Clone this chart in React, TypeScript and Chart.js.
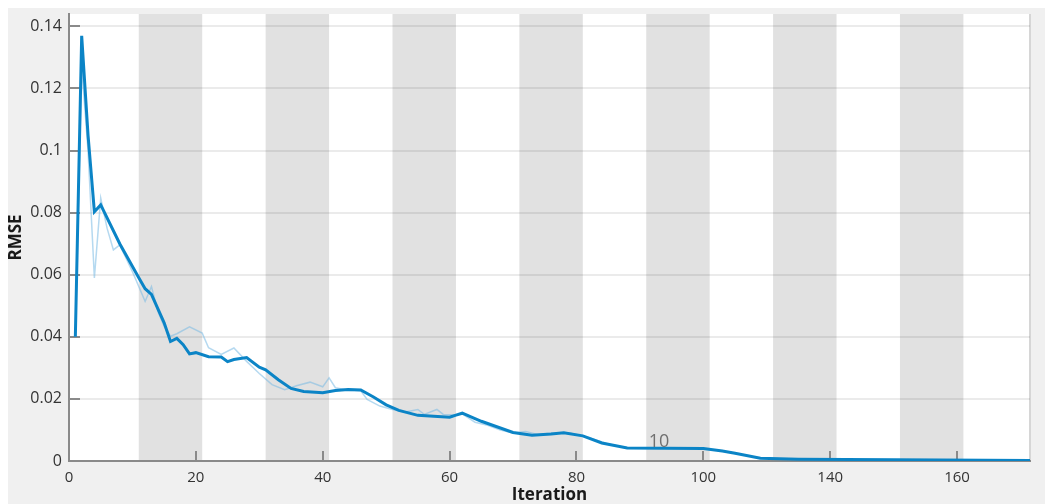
import React, { useEffect, useRef } from "react";
import { Chart, registerables } from "chart.js";

Chart.register(...registerables);

// ---- data ----
const smoothIter = [1, 2, 3, 4, 5, 8, 11, 12, 13, 15, 16, 17, 18, 19, 20, 22, 24, 25, 26, 28, 30, 31, 33, 35, 37, 40, 42, 44, 46, 48, 50, 52, 55, 60, 61, 62, 65, 70, 73, 76, 78, 81, 84, 88, 100, 103, 105, 109, 115, 130, 151.5];
const smoothRmse = [0.04, 0.137, 0.105, 0.0803, 0.0825, 0.07, 0.059, 0.0555, 0.0537, 0.0445, 0.0385, 0.0395, 0.0375, 0.0345, 0.0349, 0.0336, 0.0335, 0.032, 0.0327, 0.0333, 0.0302, 0.0294, 0.0262, 0.0234, 0.0224, 0.022, 0.0227, 0.023, 0.0229, 0.0206, 0.0181, 0.0163, 0.0147, 0.0141, 0.0148, 0.0154, 0.0128, 0.0092, 0.0083, 0.0087, 0.0091, 0.0081, 0.0058, 0.0042, 0.004, 0.0032, 0.0025, 0.0009, 0.0006, 0.0004, 0.0002];

const rawIter = [1, 2, 3, 4, 5, 6, 7, 8, 10, 12, 13, 14, 15, 16, 17, 19, 21, 22, 24, 26, 28, 30, 32, 34, 36, 38, 40, 41, 42, 44, 46, 47, 49, 51, 53, 55, 56, 58, 59, 61, 62, 64, 66, 68, 70, 72, 74, 76, 79, 82, 85, 88, 100, 103, 105, 109, 115, 130, 151.5];
const rawRmse = [0.04, 0.127, 0.1, 0.059, 0.0847, 0.075, 0.068, 0.0696, 0.061, 0.0514, 0.0562, 0.0482, 0.0434, 0.0402, 0.041, 0.0432, 0.0412, 0.0365, 0.0343, 0.0364, 0.0321, 0.0282, 0.0246, 0.023, 0.0243, 0.0254, 0.0239, 0.0268, 0.0236, 0.0228, 0.0226, 0.0198, 0.0177, 0.0166, 0.0158, 0.0166, 0.015, 0.0166, 0.015, 0.0148, 0.0152, 0.0125, 0.0115, 0.01, 0.009, 0.0095, 0.0085, 0.0089, 0.009, 0.0075, 0.0055, 0.0042, 0.004, 0.0032, 0.0025, 0.0009, 0.0006, 0.0004, 0.0002];

const xTickValues = [0, 20, 40, 60, 80, 100, 120, 140];
const xTickLabels = ["0", "20", "40", "60", "80", "100", "140", "160"];
const yTickValues = [0, 0.02, 0.04, 0.06, 0.08, 0.1, 0.12, 0.14];
const yTickLabels = ["0", "0.02", "0.04", "0.06", "0.08", "0.1", "0.12", "0.14"];

const bandStarts = [11, 31, 51, 71, 91, 111, 131];
const bandWidth = 10;

const noteText = "10";
const noteIter = 93;
const noteRmse = 0.0061;

const FONT = "'Open Sans', 'Noto Sans', sans-serif";

const decorPlugin = {
  id: "decor",
  beforeDraw(chart: any) {
    const { ctx, chartArea: a, scales } = chart;
    const xs = scales.x;
    ctx.save();
    ctx.fillStyle = "#ffffff";
    ctx.fillRect(a.left, a.top, a.right - a.left, a.bottom - a.top);
    ctx.fillStyle = "#e1e1e1";
    for (const s of bandStarts) {
      const x0 = Math.max(a.left, xs.getPixelForValue(s));
      const x1 = Math.min(a.right, xs.getPixelForValue(s + bandWidth));
      if (x1 > x0) ctx.fillRect(x0, a.top, x1 - x0, a.bottom - a.top);
    }
    ctx.strokeStyle = "#d6d6d6";
    ctx.lineWidth = 2;
    ctx.beginPath();
    ctx.moveTo(a.right, a.top);
    ctx.lineTo(a.right, a.bottom);
    ctx.stroke();
    ctx.restore();
  },
  beforeDatasetsDraw(chart: any) {
    const { ctx, chartArea: a, scales } = chart;
    ctx.save();
    ctx.strokeStyle = "#8a8a8a";
    ctx.lineWidth = 2;
    ctx.beginPath();
    for (const v of yTickValues) {
      const y = Math.round(scales.y.getPixelForValue(v));
      ctx.moveTo(a.left, y);
      ctx.lineTo(a.left + 11, y);
    }
    for (const v of xTickValues) {
      const x = Math.round(scales.x.getPixelForValue(v));
      ctx.moveTo(x, a.bottom);
      ctx.lineTo(x, a.bottom - 10);
    }
    ctx.stroke();
    ctx.restore();
  },
  afterDatasetsDraw(chart: any) {
    const { ctx, scales } = chart;
    ctx.save();
    ctx.font = `18px ${FONT}`;
    ctx.fillStyle = "#707070";
    ctx.textAlign = "center";
    ctx.textBaseline = "middle";
    ctx.fillText(noteText, scales.x.getPixelForValue(noteIter), scales.y.getPixelForValue(noteRmse));
    ctx.restore();
  },
};

export default function App() {
  const ref = useRef<HTMLCanvasElement | null>(null);

  useEffect(() => {
    if (!ref.current) return;
    const chart = new Chart(ref.current, {
      type: "line",
      data: {
        datasets: [
          {
            label: "Smoothed",
            data: smoothIter.map((x, i) => ({ x, y: smoothRmse[i] })),
            borderColor: "#0b84c6",
            borderWidth: 3,
            pointRadius: 0,
            tension: 0,
            fill: false,
          },
          {
            label: "Raw",
            data: rawIter.map((x, i) => ({ x, y: rawRmse[i] })),
            borderColor: "rgba(120,185,228,0.55)",
            borderWidth: 1.5,
            pointRadius: 0,
            tension: 0,
            fill: false,
          },
        ],
      },
      options: {
        animation: false,
        responsive: false,
        layout: { padding: { left: 0, top: 6, right: 23, bottom: 0 } },
        plugins: {
          legend: { display: false },
          tooltip: { enabled: false },
        },
        scales: {
          x: {
            type: "linear",
            min: 0,
            max: 151.5,
            afterBuildTicks: (s: any) => {
              s.ticks = xTickValues.map((v) => ({ value: v }));
            },
            afterFit: (s: any) => {
              s.height = 43;
              s.paddingLeft = 0;
              s.paddingRight = 0;
            },
            ticks: {
              autoSkip: false,
              maxRotation: 0,
              padding: 8,
              color: "#333333",
              font: { family: FONT, size: 15 },
              callback: (_v: any, i: number) => xTickLabels[i],
            },
            grid: { display: false, drawTicks: false },
            border: { display: true, color: "#8a8a8a", width: 2 },
            title: {
              display: true,
              text: "Iteration",
              color: "#1a1a1a",
              font: { family: FONT, size: 17, weight: "bold", lineHeight: 1 },
              padding: 0,
            },
          },
          y: {
            type: "linear",
            min: 0,
            max: 0.144,
            afterBuildTicks: (s: any) => {
              s.ticks = yTickValues.map((v) => ({ value: v }));
            },
            afterFit: (s: any) => {
              s.width = 61;
              s.paddingTop = 0;
              s.paddingBottom = 0;
            },
            ticks: {
              padding: 7,
              color: "#333333",
              font: { family: FONT, size: 16 },
              callback: (_v: any, i: number) => yTickLabels[i],
            },
            grid: { display: true, drawTicks: false, color: "rgba(0,0,0,0.08)", lineWidth: 2 },
            border: { display: true, color: "#8a8a8a", width: 2 },
            title: {
              display: true,
              text: "RMSE",
              color: "#1a1a1a",
              font: { family: FONT, size: 17, weight: "bold", lineHeight: 1 },
              padding: 0,
            },
          },
        },
      },
      plugins: [decorPlugin],
    });
    return () => chart.destroy();
  }, []);

  return (
    <div style={{ width: 1045, height: 496, background: "#f0f0f0", overflow: "hidden" }}>
      <canvas ref={ref} width={1045} height={496} style={{ display: "block" }} />
    </div>
  );
}
